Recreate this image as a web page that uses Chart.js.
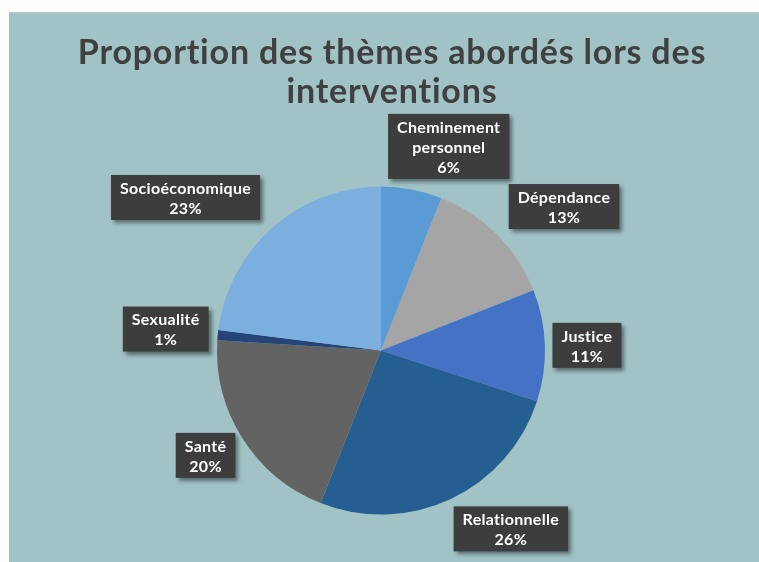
<!DOCTYPE html>
<html>
<head>
<meta charset="utf-8">
<script src="https://cdn.jsdelivr.net/npm/chart.js@4.4.0/dist/chart.umd.min.js"></script>
<style>
  html, body { margin: 0; padding: 0; background: #ffffff; }
  #frame {
    position: absolute; left: 9px; top: 12px; width: 750px; height: 550px;
    background: #a1c3c6; border-top: 1px solid #c4c8c8; box-sizing: border-box;
  }
  #pie { display: block; }
</style>
</head>
<body>
<div id="frame"><canvas id="pie" width="750" height="549"></canvas></div>
<script>
// Themes, in clockwise order from 12 o'clock
const categories = ["Cheminement personnel", "Dépendance", "Justice", "Relationnelle", "Santé", "Sexualité", "Socioéconomique"];
const labelLines = [["Cheminement", "personnel"], ["Dépendance"], ["Justice"], ["Relationnelle"], ["Santé"], ["Sexualité"], ["Socioéconomique"]];
const shares = [6, 13, 11, 26, 20, 1, 23];
const sliceColors = ["#5b9bd5", "#a5a5a5", "#4472c4", "#255e91", "#636363", "#264478", "#7cafdd"];
const titleLines = ["Proportion des thèmes abordés lors des", "interventions"];
// callout offsets (px) from the middle of each slice's outer edge
const labelOffsets = [[37, -43], [67, -28], [42, 0], [60, 30], [-37, 17], [-52, -6], [-87, -30]];

// title drawn by hand so the pie's side padding doesn't squeeze it
const titlePlugin = {
  id: "wideTitle",
  afterDraw(chart) {
    const ctx = chart.ctx;
    ctx.save();
    ctx.font = "bold 34px Lato";
    ctx.letterSpacing = "0.8px";
    ctx.fillStyle = "#404040";
    ctx.textAlign = "center";
    ctx.textBaseline = "alphabetic";
    ctx.fillText(titleLines[0], 383, 51);
    ctx.fillText(titleLines[1], 383, 90);
    ctx.restore();
  }
};

const calloutPlugin = {
  id: "callouts",
  afterDatasetsDraw(chart) {
    const ctx = chart.ctx;
    const arcs = chart.getDatasetMeta(0).data;
    ctx.save();
    ctx.font = "bold 16px Lato";
    ctx.letterSpacing = "0.3px";
    ctx.textAlign = "center";
    ctx.textBaseline = "middle";
    const lineH = 20;
    arcs.forEach((arc, i) => {
      const mid = (arc.startAngle + arc.endAngle) / 2;
      const ax = arc.x + Math.cos(mid) * arc.outerRadius + labelOffsets[i][0];
      const ay = arc.y + Math.sin(mid) * arc.outerRadius + labelOffsets[i][1];
      const lines = labelLines[i].concat([shares[i] + "%"]);
      const w = Math.max(...lines.map(t => ctx.measureText(t).width)) + 18;
      const h = lines.length * lineH + 5;
      ctx.save();
      ctx.shadowColor = "rgba(0,0,0,0.45)";
      ctx.shadowBlur = 4;
      ctx.shadowOffsetX = 3;
      ctx.shadowOffsetY = 3;
      ctx.fillStyle = "#3d3d3d";
      ctx.fillRect(ax - w / 2, ay - h / 2, w, h);
      ctx.restore();
      ctx.fillStyle = "#ffffff";
      lines.forEach((t, k) => {
        ctx.fillText(t, ax, ay - h / 2 + 2.5 + lineH * (k + 0.5) + 1);
      });
    });
    ctx.restore();
  }
};

new Chart(document.getElementById("pie"), {
  type: "pie",
  data: {
    labels: categories,
    datasets: [{
      data: shares,
      backgroundColor: sliceColors,
      borderWidth: 0
    }]
  },
  options: {
    responsive: false,
    animation: false,
    layout: { padding: { left: 208, right: 214, top: 173, bottom: 47 } },
    plugins: {
      legend: { display: false },
      tooltip: { enabled: false },
      title: { display: false }
    }
  },
  plugins: [calloutPlugin, titlePlugin]
});
</script>
</body>
</html>
